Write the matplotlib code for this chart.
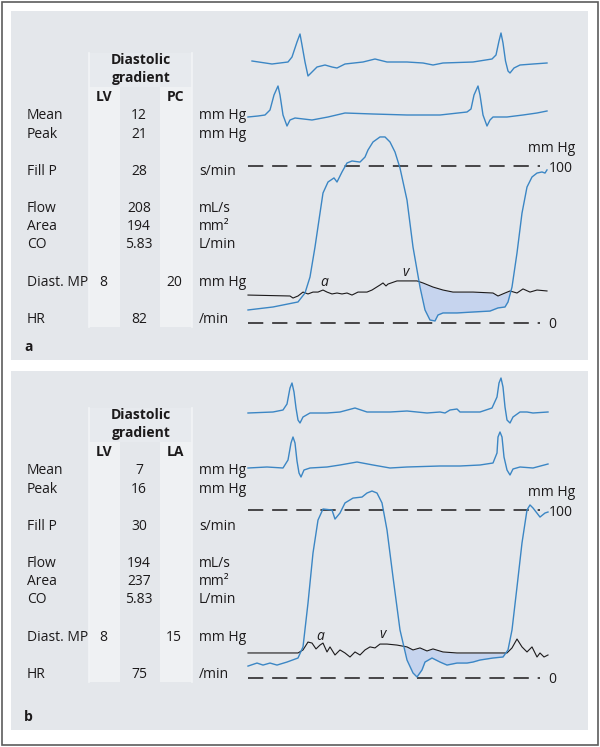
import numpy as np
import matplotlib.pyplot as plt
from matplotlib.patches import Rectangle

plt.rcParams['font.family'] = ['Open Sans', 'DejaVu Sans']

# table rows
row_labels = ["Mean", "Peak", "Fill P", "Flow", "Area", "CO", "Diast. MP", "HR"]
row_units = ["mm Hg", "mm Hg", "s/min", "mL/s", "mm²", "L/min", "mm Hg", "/min"]
grad_a = ["12", "21", "28", "208", "194", "5.83", "", "82"]
grad_b = ["7", "16", "30", "194", "237", "5.83", "", "75"]
lv_mp = ["8", "8"]
atrial_mp = ["20", "15"]
atrial_names = ["PC", "LA"]
panel_names = ["a", "b"]

# panel a traces: time in ms, ECG in mV, pressure in mm Hg
t_ecg1_a = [16, 96, 160, 176, 196, 208, 216, 228, 240, 256, 276, 308, 336, 356, 388, 460, 508, 556,
            636, 700, 740, 780, 900, 976, 992, 1004, 1012, 1020, 1030, 1040, 1048, 1064, 1088, 1140, 1196]
ecg1_a = [0.1, -0.05, 0.05, 0.3, 1.05, 1.45, 0.9, 0.05, -0.65, -0.45, -0.2, -0.1, -0.2, -0.25, -0.05,
          0.05, 0.2, 0.05, 0.05, 0, -0.1, 0, 0.05, 0.2, 0.4, 1.1, 1.5, 1.0, 0.1, -0.4, -0.5, -0.25,
          -0.1, -0.05, 0]
t_ecg2_a = [0, 40, 68, 88, 104, 120, 128, 140, 156, 168, 188, 256, 320, 388, 500, 636, 768, 876, 892,
            904, 920, 928, 940, 956, 968, 980, 1036, 1100, 1156, 1196]
ecg2_a = [0, 0.05, 0.1, 0.35, 1.1, 1.55, 1.1, 0.1, -0.45, -0.15, -0.05, -0.15, 0, 0.2, 0.15, 0.1, 0.1,
          0.25, 0.4, 1.1, 1.55, 1.1, 0.1, -0.45, -0.15, 0, 0, 0.1, 0.2, 0.3]
t_lv_a = [0, 100, 200, 228, 248, 268, 288, 300, 320, 344, 356, 376, 396, 416, 448, 468, 480, 500,
          528, 548, 568, 588, 608, 636, 660, 688, 708, 728, 748, 760, 780, 836, 900, 968, 1000,
          1028, 1040, 1056, 1076, 1096, 1116, 1136, 1156, 1176, 1188, 1196]
lv_a = [8.3, 10.2, 13.4, 19.1, 29.3, 48.4, 70, 82.8, 89.8, 92.4, 89.8, 96.2, 101.9, 103.2, 102.5,
        105.7, 110.2, 115.3, 118.5, 118.5, 115.3, 108.9, 98.7, 78.3, 48.4, 22.9, 8.3, 1.9, 1.3, 5.1,
        6.4, 6.4, 7.0, 7.6, 9.6, 10.2, 13.4, 22.9, 44.6, 70, 86.6, 93, 95.5, 96.2, 95.5, 97.5]
t_pc_a = [0, 168, 180, 200, 220, 240, 260, 280, 300, 316, 336, 356, 376, 396, 416, 440, 476, 496,
          528, 540, 552, 560, 596, 636, 676, 700, 740, 780, 820, 900, 980, 1000, 1028, 1048, 1076,
          1100, 1128, 1156, 1196]
pc_a = [17.8, 17.2, 15.9, 17.2, 19.7, 18.5, 19.7, 19.7, 21, 19.7, 18.5, 19.1, 18.5, 19.1, 17.8,
        19.7, 19.7, 21, 24.2, 25.5, 23.6, 24.8, 26.8, 26.8, 26.8, 25.5, 22.9, 21, 19.7, 19.7, 19.1,
        17.2, 19.1, 20.4, 19.1, 21.7, 19.7, 21, 20.4]

# panel b traces
t_ecg1_b = [0, 100, 140, 156, 168, 176, 184, 192, 200, 208, 220, 248, 316, 368, 428, 476, 568, 636,
            716, 768, 788, 808, 836, 848, 928, 976, 996, 1004, 1012, 1020, 1028, 1036, 1048, 1060,
            1088, 1116, 1140, 1200]
ecg1_b = [-0.05, 0, 0.1, 0.4, 1.2, 1.45, 1.0, 0.2, -0.4, -0.55, -0.25, -0.05, -0.05, 0, 0.2, 0, 0,
          0.05, -0.05, 0, -0.05, 0.1, 0.15, 0, 0, 0.2, 0.75, 1.45, 1.7, 1.25, 0.25, -0.4, -0.55,
          -0.25, 0, 0, -0.05, 0]
t_ecg2_b = [0, 76, 140, 160, 172, 180, 188, 196, 204, 212, 224, 248, 316, 368, 436, 500, 568, 636,
            768, 848, 928, 980, 996, 1000, 1008, 1016, 1024, 1036, 1048, 1060, 1088, 1140, 1200]
ecg2_b = [-0.05, 0, -0.05, 0.35, 1.2, 1.5, 1.2, 0.3, -0.3, -0.5, -0.15, -0.05, 0, 0.1, 0.25, 0.1,
          -0.05, 0, 0.05, 0.05, 0.1, 0.2, 0.7, 1.5, 1.75, 1.5, 0.5, -0.15, -0.4, -0.1, 0, -0.05, 0.15]
t_lv_b = [0, 36, 60, 88, 116, 156, 200, 220, 240, 260, 280, 300, 336, 348, 368, 388, 420, 456, 476,
          496, 516, 536, 556, 580, 608, 636, 660, 676, 696, 708, 736, 768, 796, 836, 876, 900, 928,
          980, 1020, 1040, 1056, 1076, 1096, 1116, 1128, 1140, 1168, 1188, 1200]
lv_b = [7.1, 8.9, 7.7, 8.9, 7.7, 9.5, 11.9, 18.5, 44.6, 74.4, 94, 100.6, 100, 94.6, 98.2, 104.2,
        107.1, 107.7, 110.1, 111.3, 110.1, 104.2, 88.1, 60.1, 28.6, 10.7, 3, 0.6, 4.8, 9.5, 11.9, 9.5,
        7.7, 8.9, 8.9, 9.5, 10.7, 11.9, 12.5, 16.7, 28.6, 54.2, 80.4, 100, 103, 101.2, 95.8, 98.2, 98.8]
t_la_b = [0, 200, 220, 240, 256, 272, 288, 300, 316, 328, 348, 368, 388, 408, 428, 448, 468, 488,
          508, 528, 556, 596, 636, 660, 688, 716, 740, 780, 836, 900, 980, 1036, 1056, 1076, 1096,
          1116, 1136, 1156, 1168, 1184, 1200]
la_b = [14.9, 14.9, 16.7, 21.4, 20.8, 17.3, 19.6, 20.8, 15.5, 18.5, 13.7, 16.7, 14.9, 12.5, 15.5,
        13.7, 16.7, 18.5, 17.9, 20.2, 20.2, 19.6, 18.5, 16.7, 17.9, 16.1, 17.3, 15.5, 14.9, 14.9,
        14.9, 14.9, 17.9, 23.2, 18.5, 15.5, 18.5, 12.5, 14.9, 12.5, 13.7]

W, H = 600, 747
BG = '#e4e7eb'
LIGHT = '#eff1f3'
BLUE = '#3b86c4'
FILL = '#c6d4ee'
INK = '#1c1a1b'

fig = plt.figure(figsize=(6, 7.47), dpi=100)
bg = fig.add_axes([0, 0, 1, 1])
bg.set_xlim(0, W)
bg.set_ylim(H, 0)
bg.axis('off')


def px_axes(x0, y0, x1, y1):
    ax = fig.add_axes([x0 / W, 1 - y1 / H, (x1 - x0) / W, (y1 - y0) / H])
    ax.axis('off')
    ax.set_xlim(0, 1200)
    return ax


bg.add_patch(Rectangle((1.5, 1.5), 596, 743.5, fc='white', ec='#5c5c5c', lw=1.2))

panels = [
    dict(top=11, bottom=360, dy=0, grad=grad_a, y100=166, y0=323, e1=63, e2=117,
         ecg1=(t_ecg1_a, ecg1_a), ecg2=(t_ecg2_a, ecg2_a), lv=(t_lv_a, lv_a), at=(t_pc_a, pc_a),
         a_lab=(324, 286), v_lab=(406, 276), lab_y=351),
    dict(top=371, bottom=730, dy=355, grad=grad_b, y100=510, y0=678, e1=412, e2=467,
         ecg1=(t_ecg1_b, ecg1_b), ecg2=(t_ecg2_b, ecg2_b), lv=(t_lv_b, lv_b), at=(t_la_b, la_b),
         a_lab=(320, 640), v_lab=(383, 638), lab_y=721),
]
row_base = [119, 138, 175, 212, 230, 248, 286, 323]

for i, p in enumerate(panels):
    dy = p['dy']
    bg.add_patch(Rectangle((11, p['top']), 577, p['bottom'] - p['top'], fc=BG, ec='none'))
    # table columns
    bg.add_patch(Rectangle((89, 87 + dy), 31, 240, fc=LIGHT, ec='none'))
    bg.add_patch(Rectangle((160, 87 + dy), 32, 240, fc=LIGHT, ec='none'))
    bg.add_patch(Rectangle((89, 53 + dy), 103, 34, fc='#e7eaee', ec='none'))
    for xv in (89, 192):
        bg.plot([xv, xv], [53 + dy, 327 + dy], color='#f2f4f6', lw=1.2)
    bg.text(141, 64 + dy, "Diastolic", ha='center', va='baseline', fontsize=10, fontweight='bold', color=INK)
    bg.text(141, 82 + dy, "gradient", ha='center', va='baseline', fontsize=10, fontweight='bold', color=INK)
    bg.text(104, 101 + dy, "LV", ha='center', va='baseline', fontsize=10, fontweight='bold', color=INK)
    bg.text(175, 101 + dy, atrial_names[i], ha='center', va='baseline', fontsize=10, fontweight='bold', color=INK)
    for j, lab in enumerate(row_labels):
        yb = row_base[j] + dy
        bg.text(27, yb, lab, ha='left', va='baseline', fontsize=10, color=INK)
        bg.text(199, yb, row_units[j], ha='left', va='baseline', fontsize=10, color=INK)
        bg.text(139, yb, p['grad'][j], ha='center', va='baseline', fontsize=10, color=INK)
    bg.text(103, row_base[6] + dy, lv_mp[i], ha='center', va='baseline', fontsize=10, color=INK)
    bg.text(174, row_base[6] + dy, atrial_mp[i], ha='center', va='baseline', fontsize=10, color=INK)
    bg.text(24, p['lab_y'], panel_names[i], ha='left', va='baseline', fontsize=10, fontweight='bold', color=INK)

    # ECG traces
    for key, base in (('ecg1', p['e1']), ('ecg2', p['e2'])):
        ax = px_axes(248, base - 40, 548, base + 20)
        ax.set_ylim(-1, 2)
        ax.plot(*p[key], color=BLUE, lw=1.0, clip_on=False, solid_joinstyle='round')

    # pressure traces
    ax = px_axes(248, p['y100'], 548, p['y0'])
    ax.set_ylim(0, 100)
    for lvl in (0, 100):
        ax.plot([0, 1168], [lvl, lvl], color=INK, lw=1.1, ls=(0, (10, 5.8)), clip_on=False)
    t_lv, v_lv = p['lv']
    t_at, v_at = p['at']
    tt = np.union1d(t_lv, t_at)
    lv_i = np.interp(tt, t_lv, v_lv)
    at_i = np.interp(tt, t_at, v_at)
    ax.fill_between(tt, lv_i, at_i, where=(lv_i < at_i) & (tt > 600), interpolate=True,
                    color=FILL, lw=0, clip_on=False)
    ax.plot(t_at, v_at, color=INK, lw=0.8, clip_on=False, solid_joinstyle='round')
    ax.plot(t_lv, v_lv, color=BLUE, lw=1.0, clip_on=False, solid_joinstyle='round')

    bg.text(p['a_lab'][0], p['a_lab'][1], "a", style='italic', fontsize=10, ha='center', va='baseline', color=INK)
    bg.text(p['v_lab'][0], p['v_lab'][1], "v", style='italic', fontsize=10, ha='center', va='baseline', color=INK)
    bg.text(552, p['y100'] - 14, "mm Hg", ha='center', va='baseline', fontsize=10, color=INK)
    bg.text(549, p['y100'] + 6, "100", ha='left', va='baseline', fontsize=10, color=INK)
    bg.text(548, p['y0'] + 5, "0", ha='left', va='baseline', fontsize=10, color=INK)

fig.savefig("out.png", dpi=100)
